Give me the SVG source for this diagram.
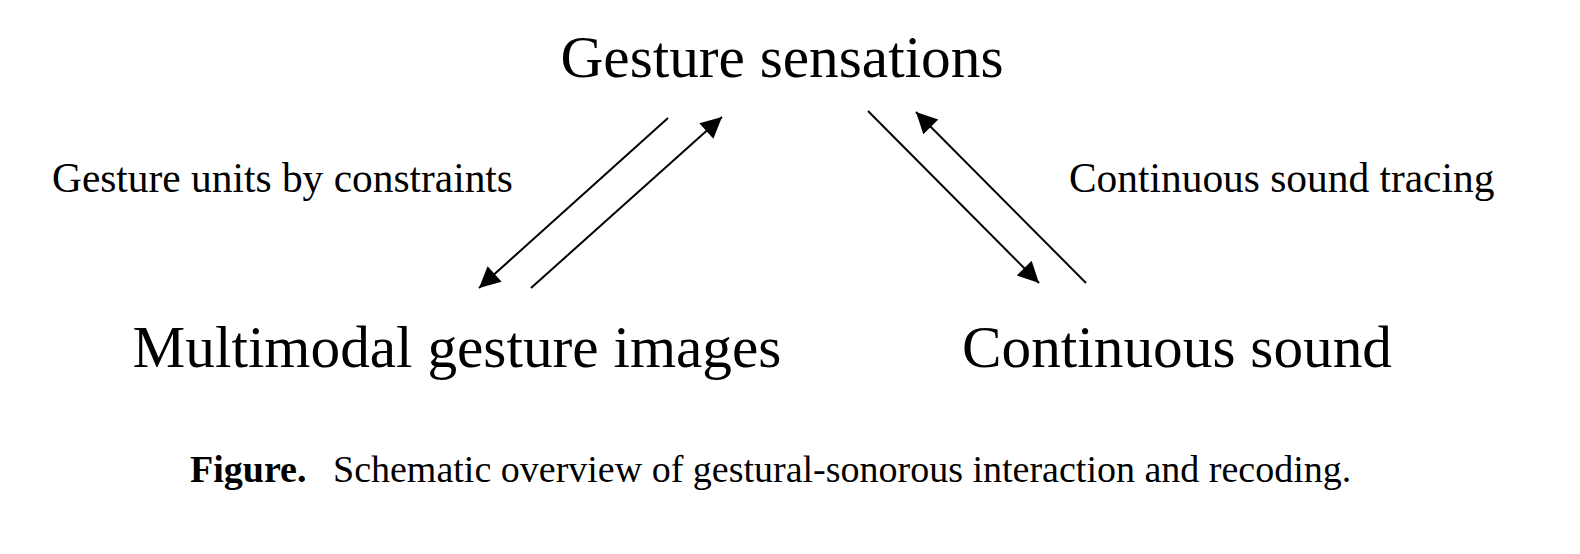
<svg xmlns="http://www.w3.org/2000/svg" width="1580" height="554" viewBox="0 0 1580 554">
<style>
text{font-family:"Liberation Serif","Times New Roman",serif;fill:#000}
.big{font-size:59.3px}
.lab{font-size:41.4px}
.cap{font-size:38px}
.b{font-weight:bold}
.c{stroke:#000;stroke-width:2;fill:none}
</style>
<defs>
<marker id="ah" viewBox="0 0 10 10" refX="10" refY="5" markerWidth="27" markerHeight="21" markerUnits="userSpaceOnUse" orient="auto">
<path d="M0,0 L10,5 L0,10 z" fill="#000"/>
</marker>
</defs>
<rect width="1580" height="554" fill="#fff"/>
<g id="node-gesture-sensations"><text class="big" x="782" y="77" text-anchor="middle">Gesture sensations</text></g>
<g id="node-multimodal"><text class="big" x="457" y="367" text-anchor="middle">Multimodal gesture images</text></g>
<g id="node-continuous-sound"><text class="big" x="1177" y="367" text-anchor="middle">Continuous sound</text></g>
<g id="label-left"><text class="lab" x="52" y="192">Gesture units by constraints</text></g>
<g id="label-right"><text class="lab" x="1069" y="192">Continuous sound tracing</text></g>
<g id="connectors">
<line class="c" x1="668" y1="118" x2="479" y2="288" marker-end="url(#ah)"/>
<line class="c" x1="531" y1="288" x2="722" y2="117" marker-end="url(#ah)"/>
<line class="c" x1="868" y1="111" x2="1039" y2="283" marker-end="url(#ah)"/>
<line class="c" x1="1086" y1="283" x2="916" y2="112" marker-end="url(#ah)"/>
</g>
<g id="caption"><text class="cap" x="190" y="482"><tspan class="b">Figure.</tspan><tspan x="333">Schematic overview of gestural-sonorous interaction and recoding.</tspan></text></g>
</svg>
